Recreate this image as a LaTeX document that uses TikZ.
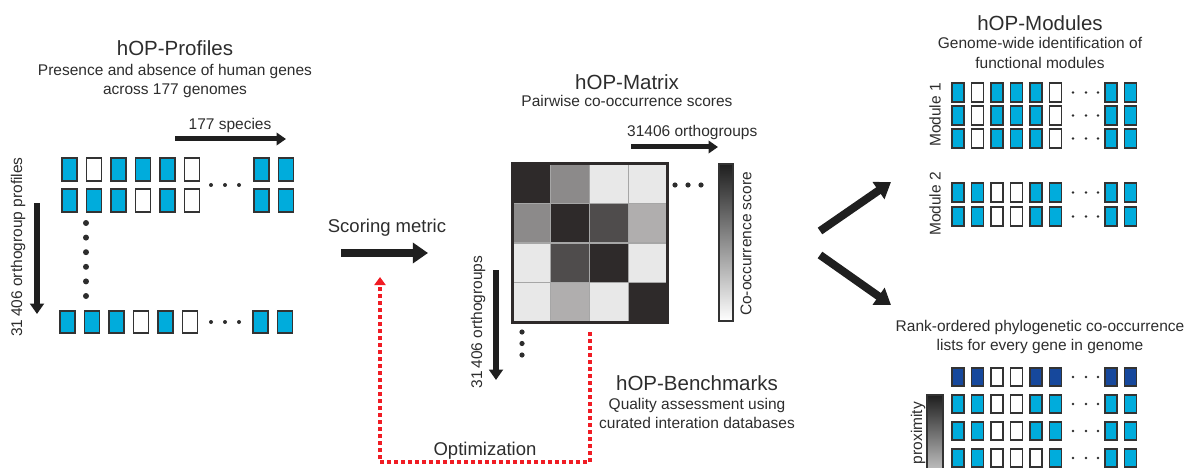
\documentclass[tikz,border=0pt]{standalone}
\usepackage{fontspec}
\setmainfont{Liberation Sans}
\usetikzlibrary{arrows.meta}
\definecolor{gon}{RGB}{0,172,220}
\definecolor{gtop}{RGB}{22,72,156}
\colorlet{goff}{white}
\definecolor{ink}{RGB}{45,45,45}
\definecolor{optred}{RGB}{240,28,36}
\definecolor{matdark}{RGB}{46,42,42}

% x0, step, top, width, height, first six colours, last two colours, x of last two
\newcommand{\generow}[8]{%
  \foreach \gc [count=\gi from 0] in {#6}
    \draw[cell, fill=\gc] ({#1+\gi*#2},#3) rectangle ++(#4,#5);
  \foreach \gc [count=\gi from 0] in {#7}
    \draw[cell, fill=\gc] ({#8+\gi*#2},#3) rectangle ++(#4,#5);
}

\begin{document}
\begin{tikzpicture}[x=1pt, y=-1pt,
			every node/.style = {text=ink, align=center, inner sep=0pt},
			title/.style = {font=\fontsize{20.5}{23}\selectfont},
			sub/.style = {font=\fontsize{15.5}{19.5}\selectfont},
			cell/.style = {draw=black!80, line width=1.1pt},
			fatarrow/.style = {draw=black!88, line width=#1, -{Triangle[length=1.9*#1, width=2.5*#1]}},
			fatarrow/.default = 8pt,
			scorebar/.style = {draw=black!80, line width=1.3pt, top color=black!88, bottom color=white}]
\useasboundingbox (0,0) rectangle (1192,468);
\clip (0,0) rectangle (1192,468);

\node[title] (profiles) at (175,48) {hOP-Profiles};
\node[sub] (profsub) at (175,81) {Presence and absence of human genes\\across 177 genomes};
\node[sub] (species) at (230,125) {177 species};
\coordinate (spA) at (175,139); \coordinate (spB) at (286,139);
\draw[fatarrow=5pt] (spA) -- (spB);
\node[sub, rotate=90] (orthoprof) at (18,247) {31\,406 orthogroup profiles};
\coordinate (opA) at (37,203); \coordinate (opB) at (37,314);
\draw[fatarrow=5.5pt] (opA) -- (opB);
\generow{62}{24.5}{158}{15}{23}{gon,goff,gon,gon,gon,goff}{gon,gon}{254}
\generow{62}{24.5}{189}{15}{23}{gon,gon,gon,goff,gon,goff}{gon,gon}{254}
\generow{60}{24.5}{311}{15}{22}{gon,gon,gon,goff,gon,goff}{gon,gon}{253}
\foreach \dx in {211,225,239} \fill[ink] (\dx,185) circle (2pt);
\foreach \dx in {211,225,239} \fill[ink] (\dx,322) circle (2pt);
\foreach \dy in {223,237.6,252.2,266.8,281.4,296} \fill[ink] (86,\dy) circle (3pt);

\node[sub, font=\fontsize{18.5}{21}\selectfont] (scoring) at (387,228) {Scoring metric};
\coordinate (scA) at (341,253); \coordinate (scB) at (428,253);
\draw[fatarrow=8pt] (scA) -- (scB);

\node[title] (matrix) at (627,82) {hOP-Matrix};
\node[sub] (matsub) at (627,101) {Pairwise co-occurrence scores};
\node[sub, anchor=west] (orthotop) at (627,132) {31406 orthogroups};
\coordinate (otA) at (631,147); \coordinate (otB) at (718,147);
\draw[fatarrow=5pt] (otA) -- (otB);
\node[sub, rotate=90] (ortholeft) at (478,322) {31\,406 orthogroups};
\coordinate (olA) at (496,270); \coordinate (olB) at (496,380);
\draw[fatarrow=5.5pt] (olA) -- (olB);
\foreach \row [count=\r from 0] in {{100,55,11,11},{55,100,84,38},{11,84,100,11},{11,38,11,100}}
  \foreach \g [count=\c from 0] in \row
    \draw[draw=black!35, line width=1.2pt, fill=matdark!\g!white] ({512+\c*38.75},{164+\r*39.5}) rectangle ++(38.75,39.5);
\draw[draw=matdark, line width=3pt] (512,164) rectangle (667,322);
\foreach \dx in {675,688,701} \fill[ink] (\dx,185) circle (2.6pt);
\foreach \dy in {332,343.5,355} \fill[ink] (522,\dy) circle (2.6pt);
\draw[scorebar] (719,164) rectangle (733,321);
\node[sub, rotate=90] (coscore) at (746,244) {Co-occurrence score};

\node[title] (bench) at (697,383) {hOP-Benchmarks};
\node[sub] (benchsub) at (697,413.5) {Quality assessment using\\curated interation databases};
\coordinate (bnA) at (590,332); \coordinate (bnB) at (590,462);
\coordinate (bnC) at (380,462); \coordinate (bnD) at (380,277);
\draw[optred, line width=3.8pt, dash pattern=on 4pt off 3pt, -{Triangle[length=8pt, width=11pt]}] (bnA) -- (bnB) -- (bnC) -- (bnD);
\node[sub, font=\fontsize{18.5}{21}\selectfont] (optim) at (485,451) {Optimization};

\coordinate (upA) at (820,231); \coordinate (upB) at (891,182);
\draw[fatarrow=8pt] (upA) -- (upB);
\coordinate (dnA) at (820,255); \coordinate (dnB) at (891,305);
\draw[fatarrow=8pt] (dnA) -- (dnB);

\node[title] (modules) at (1040,23) {hOP-Modules};
\node[sub] (modsub) at (1040,53) {Genome-wide identification of\\functional modules};
\node[sub, rotate=90] (modone) at (935,115) {Module 1};
\node[sub, rotate=90] (modtwo) at (935,204) {Module 2};
\foreach \ty in {83,106,129} {
  \generow{952}{19.5}{\ty}{12}{19}{gon,goff,gon,gon,gon,goff}{gon,gon}{1105}
  \foreach \dx in {1073,1086,1098} \fill[ink] (\dx,\ty+9.5) circle (1.3pt);
}
\foreach \ty in {183,207} {
  \generow{952}{19.5}{\ty}{12}{19}{gon,gon,goff,goff,gon,gon}{gon,gon}{1105}
  \foreach \dx in {1073,1086,1098} \fill[ink] (\dx,\ty+9.5) circle (1.3pt);
}

\node[sub] (rank) at (1040,337) {Rank-ordered phylogenetic co-occurrence\\lists for every gene in genome};
\generow{952}{19.5}{368}{12}{18}{gtop,gtop,goff,goff,gtop,gtop}{gtop,gtop}{1105}
\generow{952}{19.5}{395}{12}{18}{gon,gon,goff,goff,gon,gon}{gon,gon}{1105}
\generow{952}{19.5}{422}{12}{18}{gon,gon,goff,goff,gon,gon}{gon,gon}{1105}
\generow{952}{19.5}{449}{12}{18}{gon,gon,goff,goff,goff,gon}{gon,gon}{1105}
\foreach \ty in {368,395,422,449} \foreach \dx in {1073,1086,1098} \fill[ink] (\dx,\ty+9) circle (1.3pt);
\draw[scorebar] (927,395) rectangle (943,500);
\node[sub, rotate=90] (proxim) at (918,433) {proximity};
\end{tikzpicture}
\end{document}
